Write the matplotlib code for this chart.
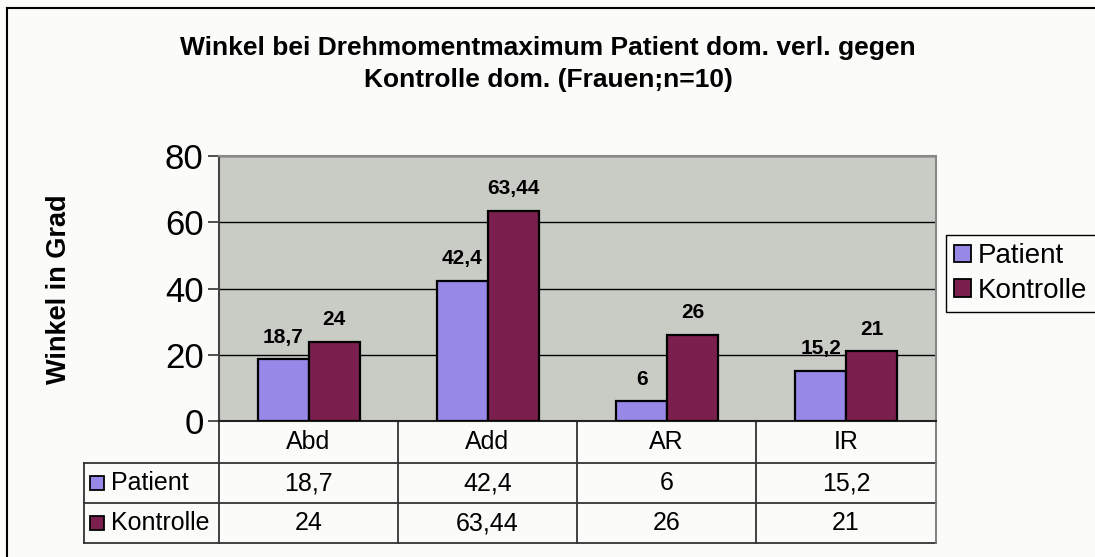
import numpy as np
import matplotlib.pyplot as plt
from matplotlib.patches import Rectangle, Patch
from matplotlib.lines import Line2D

plt.rcParams['font.family'] = ['Liberation Sans', 'DejaVu Sans']

categories = ['Abd', 'Add', 'AR', 'IR']
patient = [18.7, 42.4, 6, 15.2]
kontrolle = [24, 63.44, 26, 21]
series_names = ['Patient', 'Kontrolle']
patient_labels = ['18,7', '42,4', '6', '15,2']
kontrolle_labels = ['24', '63,44', '26', '21']

W, H = 1095, 557
c_pat = '#9888E8'
c_kon = '#7B1F4E'
bg = '#FBFBF9'

fig = plt.figure(figsize=(W / 100, H / 100), dpi=100, facecolor=bg)

# plot area in pixels
px0, px1, py0, py1 = 219, 936, 156, 421
ax = fig.add_axes([px0 / W, 1 - py1 / H, (px1 - px0) / W, (py1 - py0) / H])
ax.set_facecolor('#C9CBC5')


def fx(x):
    # pixel x -> axes fraction
    return (x - px0) / (px1 - px0)


def fy(y):
    # pixel y -> axes fraction
    return (py1 - y) / (py1 - py0)


x = np.arange(len(categories))
w = 0.285
b1 = ax.bar(x - w / 2, patient, w, color=c_pat, edgecolor='black', linewidth=1.6, zorder=3)
b2 = ax.bar(x + w / 2, kontrolle, w, color=c_kon, edgecolor='black', linewidth=1.6, zorder=3)

for bars, labs in ((b1, patient_labels), (b2, kontrolle_labels)):
    for r, lab in zip(bars, labs):
        ax.annotate(lab, (r.get_x() + r.get_width() / 2, r.get_height()),
                    xytext=(0, 9), textcoords='offset points', ha='center', va='bottom',
                    fontsize=15, fontweight='bold')

ax.set_xlim(-0.5, 3.5)
ax.set_ylim(0, 80)
ax.set_yticks([0, 20, 40, 60, 80])
ax.yaxis.grid(True, color='black', linewidth=1.0, zorder=0)
ax.set_axisbelow(True)
ax.set_xticks([])
ax.tick_params(axis='y', labelsize=25, length=8, width=1.2, color='#333333', pad=3)
for s in ['top', 'right']:
    ax.spines[s].set_color('#888888')
    ax.spines[s].set_linewidth(1.5)
ax.spines['left'].set_color('#444444')
ax.spines['left'].set_linewidth(1.5)
ax.spines['bottom'].set_color('#222222')
ax.spines['bottom'].set_linewidth(1.5)

# data table below the axis
rows = [421, 463, 503, 543]
cols = [219, 398, 577, 756, 936]
head_x = 84
tfs = 18
kw = dict(transform=ax.transAxes, clip_on=False)
for yy in rows[1:]:
    ax.add_line(Line2D([fx(head_x), fx(cols[-1])], [fy(yy), fy(yy)], color='#333333', lw=1.3, **kw))
ax.add_line(Line2D([fx(head_x), fx(head_x)], [fy(rows[1]), fy(rows[3])], color='#333333', lw=1.3, **kw))
for i, xx in enumerate(cols):
    col = '#777777' if i == len(cols) - 1 else '#333333'
    ax.add_line(Line2D([fx(xx), fx(xx)], [fy(rows[0]), fy(rows[3])], color=col, lw=1.3, **kw))

for i, cat in enumerate(categories):
    xc = fx((cols[i] + cols[i + 1]) / 2)
    ax.text(xc, fy((rows[0] + rows[1]) / 2), cat, ha='center', va='center', fontsize=tfs, **kw)
    ax.text(xc, fy((rows[1] + rows[2]) / 2), patient_labels[i], ha='center', va='center', fontsize=tfs, **kw)
    ax.text(xc, fy((rows[2] + rows[3]) / 2), kontrolle_labels[i], ha='center', va='center', fontsize=tfs, **kw)

for j, (name, col) in enumerate(zip(series_names, [c_pat, c_kon])):
    yc = (rows[j + 1] + rows[j + 2]) / 2
    ax.add_patch(Rectangle((fx(90), fy(yc + 7)), fx(104) - fx(90), fy(yc - 7) - fy(yc + 7),
                           facecolor=col, edgecolor='black', lw=1.3, **kw))
    ax.text(fx(111), fy(yc), name, ha='left', va='center', fontsize=tfs, **kw)

# legend
handles = [Patch(facecolor=c, edgecolor='black', linewidth=1.3) for c in [c_pat, c_kon]]
leg = fig.legend(handles, series_names, loc='upper left', bbox_to_anchor=(946 / W, 1 - 235 / H),
                 fontsize=20, frameon=True, fancybox=False, edgecolor='black', framealpha=1,
                 facecolor=bg, handlelength=0.6, handleheight=0.6, handletextpad=0.25,
                 borderpad=0.3, labelspacing=0.3, borderaxespad=0)
leg.get_frame().set_linewidth(1.0)

# titles
fig.text(548 / W, 1 - 64 / H, 'Winkel bei Drehmomentmaximum Patient dom. verl. gegen\nKontrolle dom. (Frauen;n=10)',
         ha='center', va='center', fontsize=19, fontweight='bold', linespacing=1.45)
fig.text(59 / W, 1 - 289 / H, 'Winkel in Grad', ha='center', va='center', rotation=90,
         fontsize=19.5, fontweight='bold')

# outer chart border
fig.add_artist(Line2D([7 / W, 7 / W], [0, 1 - 8 / H], color='black', lw=1.5, transform=fig.transFigure))
fig.add_artist(Line2D([7 / W, 1], [1 - 8 / H, 1 - 8 / H], color='black', lw=1.5, transform=fig.transFigure))

fig.savefig('out.png', dpi=100, facecolor=bg)
